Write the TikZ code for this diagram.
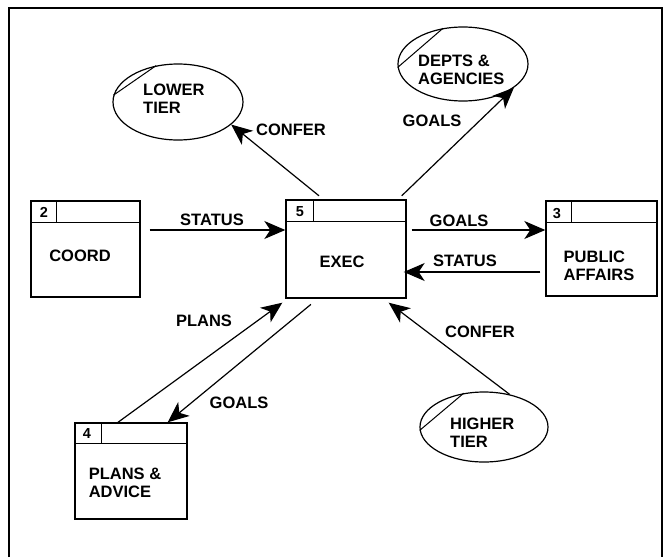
\documentclass[tikz,border=0pt]{standalone}
\usepackage{fontspec}
\setmainfont{Liberation Sans}
\usetikzlibrary{shapes.geometric,arrows.meta}

\begin{document}
\begin{tikzpicture}[x=1pt,y=-1pt,
  box/.style={draw,line width=1.4pt,minimum width=#1,inner sep=0pt},
  ext/.style={draw,ellipse,line width=1.2pt,inner sep=0pt},
  txt/.style={font=\fontsize{16.5}{18}\selectfont\bfseries,align=left,inner sep=0pt},
  num/.style={font=\fontsize{14.5}{15}\selectfont\bfseries,inner sep=0pt},
  flow/.style={line width=1.2pt,-{Stealth[length=21pt,width=18pt,inset=6pt]}}]
\useasboundingbox (0,0) rectangle (672,557);
\draw[line width=1.4pt] (9,557) -- (9,8) -- (662,8) -- (662,557);

% process boxes
\node[box=109pt,minimum height=96pt] (coord) at (85.5,249) {};
\draw[line width=1.4pt] ([yshift=-22pt]coord.north west) -- ([yshift=-22pt]coord.north east);
\draw[line width=1.2pt] ([xshift=26pt]coord.north west) -- ([xshift=26pt,yshift=-22pt]coord.north west);
\node[num] (coord-no) at (44,212) {2};
\node[txt] (coord-txt) at (80,256) {COORD};

\node[box=120pt,minimum height=98pt] (exec) at (346,249) {};
\draw[line width=1.4pt] ([yshift=-22pt]exec.north west) -- ([yshift=-22pt]exec.north east);
\draw[line width=1.2pt] ([xshift=28pt]exec.north west) -- ([xshift=28pt,yshift=-22pt]exec.north west);
\node[num] (exec-no) at (300,212) {5};
\node[txt] (exec-txt) at (342,262) {EXEC};

\node[box=111pt,minimum height=95pt] (pub) at (601.5,248.5) {};
\draw[line width=1.4pt] ([yshift=-22pt]pub.north west) -- ([yshift=-22pt]pub.north east);
\draw[line width=1.2pt] ([xshift=26pt]pub.north west) -- ([xshift=26pt,yshift=-22pt]pub.north west);
\node[num] (pub-no) at (557,214) {3};
\node[txt] (pub-txt) at (599,266) {PUBLIC\\AFFAIRS};

\node[box=112pt,minimum height=96pt] (plans) at (131,471) {};
\draw[line width=1.4pt] ([yshift=-21pt]plans.north west) -- ([yshift=-21pt]plans.north east);
\draw[line width=1.2pt] ([xshift=27pt]plans.north west) -- ([xshift=27pt,yshift=-21pt]plans.north west);
\node[num] (plans-no) at (87,434) {4};
\node[txt] (plans-txt) at (125,483) {PLANS \&\\ADVICE};

% external entities
\node[ext,minimum width=130pt,minimum height=76pt] (lower) at (178,102) {};
\draw[line width=1pt] (lower.174) -- (lower.121);
\node[txt,anchor=west] (lower-txt) at (143,99) {LOWER\\TIER};

\node[ext,minimum width=130pt,minimum height=74pt] (depts) at (463,64) {};
\draw[line width=1pt] (depts.183) -- (depts.119);
\node[txt,anchor=west] (depts-txt) at (418,70) {DEPTS \&\\AGENCIES};

\node[ext,minimum width=128pt,minimum height=70pt] (higher) at (484,427) {};
\draw[line width=1pt] (higher.183) -- (higher.121);
\node[txt,anchor=west] (higher-txt) at (450,433) {HIGHER\\TIER};

% flows
\draw[flow] ([xshift=9pt,yshift=19pt]coord.east) -- ([yshift=19pt]exec.west);
\draw[flow] ([xshift=5pt,yshift=19pt]exec.east) -- ([yshift=18.5pt]pub.west);
\draw[flow] ([xshift=-5pt,yshift=-23.5pt]pub.west) -- ([xshift=-3pt,yshift=-23pt]exec.east);
\draw[flow] ([xshift=-27pt,yshift=3.5pt]exec.north) -- (lower.-23);
\draw[flow] ([xshift=-5pt,yshift=3.5pt]exec.north east) -- (depts.-25);
\draw[flow] (higher.52) -- ([xshift=-18pt,yshift=-4pt]exec.south east);
\draw[flow] ([xshift=-13pt]plans.north) -- ([xshift=-3pt,yshift=-4pt]exec.south west);
\draw[flow] ([xshift=25.6pt,yshift=-5.7pt]exec.south west) -- ([xshift=-20pt]plans.north east);

\node[txt] (status-in) at (212,220) {STATUS};
\node[txt] (goals-pub) at (459,221) {GOALS};
\node[txt] (status-pub) at (465,261) {STATUS};
\node[txt] (confer-low) at (291,130) {CONFER};
\node[txt] (goals-depts) at (432,121) {GOALS};
\node[txt] (confer-high) at (480,332) {CONFER};
\node[txt] (plans-up) at (204,321) {PLANS};
\node[txt] (goals-plans) at (239,403) {GOALS};
\end{tikzpicture}
\end{document}
